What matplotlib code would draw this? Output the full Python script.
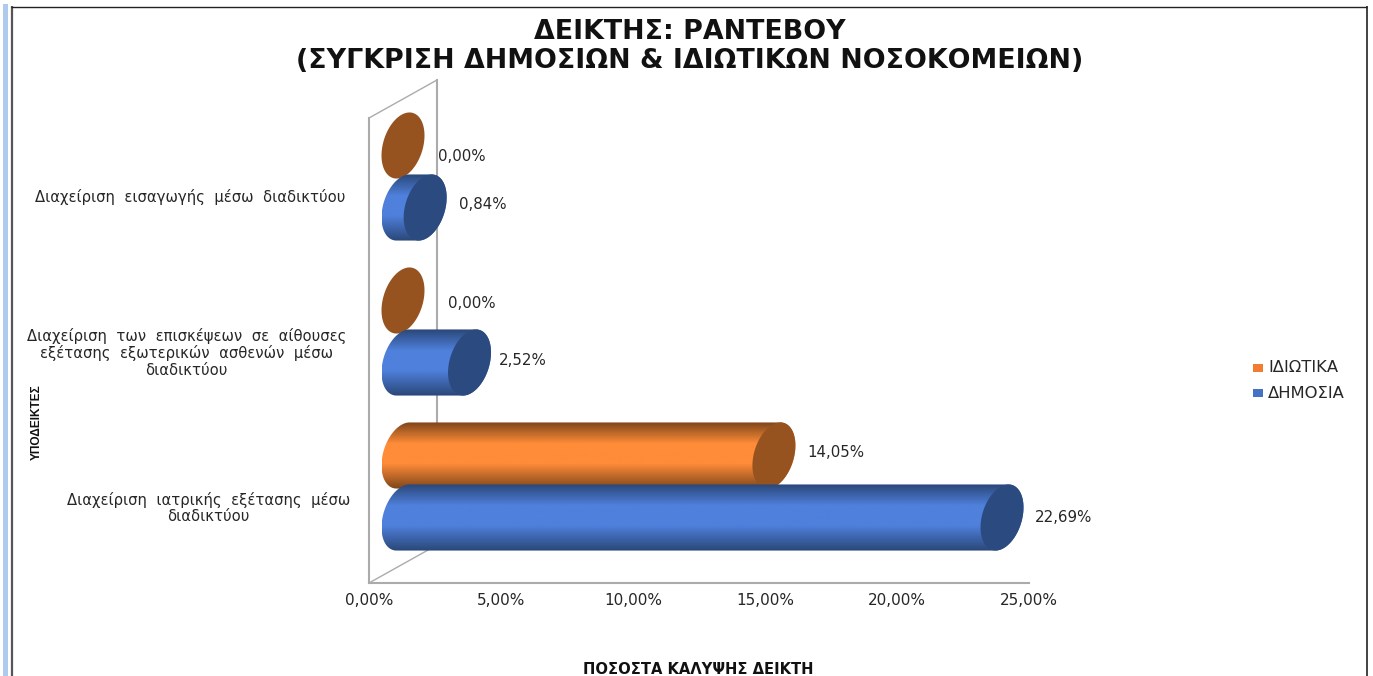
import numpy as np
import matplotlib
matplotlib.use('Agg')
import matplotlib.pyplot as plt
from matplotlib.colors import LinearSegmentedColormap
from matplotlib.lines import Line2D
from matplotlib.patches import Polygon, Rectangle

# ── Data ──────────────────────────────────────────────────────────
CATEGORIES = [
    'Διαχείριση  ιατρικής  εξέτασης  μέσω\nδιαδικτύου',
    'Διαχείριση  των  επισκέψεων  σε  αίθουσες\nεξέτασης  εξωτερικών  ασθενών  μέσω\nδιαδικτύου',
    'Διαχείριση  εισαγωγής  μέσω  διαδικτύου',
]
DIMOSIA  = [22.69, 2.52, 0.84]
IDIOTIKA = [14.05, 0.00, 0.00]
X_TICKS  = [0, 5, 10, 15, 20, 25]

# ── Layout (pixels of the 1373x676 picture) ───────────────────────
W, H = 1373, 676
AX_L, AX_R, AX_T, AX_B = 369, 1029, 118, 583
PX_X = (AX_R - AX_L) / 25
PX_Y = (AX_B - AX_T) / 3
DEPTH_X, DEPTH_Y = 68 / PX_X, 38 / PX_Y     # depth of the fake 3D box
BAR_SHIFT = 31 / PX_Y                       # series centre from category centre

# end cap of a cylinder, half axes in data units
CAP_UX, CAP_UY, CAP_VY = 21.5 / PX_X, 10 / PX_Y, 31.5 / PX_Y

BLUE   = {'edge': '#2A4778', 'mid': '#4F80DC', 'cap': '#2B4B80'}
ORANGE = {'edge': '#7E451A', 'mid': '#FF8C38', 'cap': '#97531F'}
WALL   = '#ABABAB'
TEXT   = '#262626'

plt.rcParams['font.family'] = ['DejaVu Sans']

fig = plt.figure(figsize=(W / 100, H / 100), dpi=100)
ax = fig.add_axes([AX_L / W, 1 - AX_B / H, (AX_R - AX_L) / W, (AX_B - AX_T) / H])
ax.set_xlim(0, 25)
ax.set_ylim(0, 3)
ax.patch.set_alpha(0)


def cap_points(cx, cy, t):
    return np.column_stack([cx + CAP_UX * np.cos(t),
                            cy + CAP_UY * np.cos(t) + CAP_VY * np.sin(t)])


def draw_cylinder(value, cy, style, z):
    x0 = DEPTH_X / 2
    x1 = x0 + value
    t_top = np.arctan2(CAP_VY, CAP_UY)      # upper tangent of the tilted ellipse
    if value > 0:
        left = cap_points(x0, cy, np.linspace(t_top, t_top + np.pi, 60))
        right = cap_points(x1, cy, np.linspace(t_top + np.pi, t_top + 2 * np.pi, 60))
        body = Polygon(np.vstack([left, right]), closed=True, transform=ax.transData,
                       fc='none', ec='none')
        ax.add_patch(body)
        half = np.hypot(CAP_UY, CAP_VY)
        cmap = LinearSegmentedColormap.from_list(
            'g', [(0, style['edge']), (0.32, style['mid']), (0.62, style['mid']), (1, style['edge'])],
        )
        grad = np.linspace(0, 1, 128).reshape(-1, 1)
        im = ax.imshow(grad, cmap=cmap, aspect='auto', zorder=z,
                       extent=[x0 - CAP_UX, x1 + CAP_UX, cy - half, cy + half])
        im.set_clip_path(body)
    cap = Polygon(cap_points(x1, cy, np.linspace(0, 2 * np.pi, 120)), closed=True,
                  fc=style['cap'], ec='none', zorder=z + 0.1, clip_on=False)
    ax.add_patch(cap)


# ── Box walls ─────────────────────────────────────────────────────
wall_kw = dict(color=WALL, clip_on=False, zorder=1)
ax.plot([0, 0], [0, 3], lw=1.5, **wall_kw)
ax.plot([0, 25], [0, 0], lw=1.5, **wall_kw)
ax.plot([0, DEPTH_X], [0, DEPTH_Y], lw=1.0, **wall_kw)
ax.plot([0, DEPTH_X], [3, 3 + DEPTH_Y], lw=1.0, **wall_kw)
ax.plot([DEPTH_X, DEPTH_X], [DEPTH_Y, 3 + DEPTH_Y], lw=1.5, **wall_kw)

# ── Bars + value labels ───────────────────────────────────────────
# hand placed label nudges in pixels, (category, series)
NUDGE_ORANGE = [(33, 3), (45, -3), (35, -11)]
NUDGE_BLUE   = [(33, 0), (29, 2), (34, 3)]

for i in range(len(CATEGORIES)):
    cy = i + 0.5 + DEPTH_Y / 2
    for vals, style, sign, nudge, z in ((IDIOTIKA, ORANGE, 1, NUDGE_ORANGE, 3),
                                        (DIMOSIA, BLUE, -1, NUDGE_BLUE, 4)):
        y = cy + sign * BAR_SHIFT
        draw_cylinder(vals[i], y, style, z)
        ax.annotate(f'{vals[i]:.2f}%'.replace('.', ','),
                    (DEPTH_X / 2 + vals[i], y),
                    xytext=(nudge[i][0] * 0.72, nudge[i][1] * 0.72),
                    textcoords='offset points', ha='left', va='center',
                    fontsize=10.8, color=TEXT, zorder=6)

ax.set_xlim(0, 25)
ax.set_ylim(0, 3)

# ── Axes text ─────────────────────────────────────────────────────
ax.set_xticks(X_TICKS)
ax.set_xticklabels([f'{t:.2f}%'.replace('.', ',') for t in X_TICKS],
                   fontsize=11, color=TEXT)
ax.set_yticks([i + 0.5 for i in range(len(CATEGORIES))])
ax.set_yticklabels(CATEGORIES, fontsize=10.6, color=TEXT, ha='center',
                   linespacing=1.15, multialignment='center')
ax.tick_params(axis='both', length=0)
ax.tick_params(axis='x', pad=7.5)
for s in ax.spines.values():
    s.set_visible(False)
# centred block of y labels, right edge set by hand
for lab, xc in zip(ax.get_yticklabels(), [213, 191.5, 195.5]):
    lab.set_x((xc - AX_L) / (AX_R - AX_L))

fig.text(690 / W, 1 - 32 / H, 'ΔΕΙΚΤΗΣ: ΡΑΝΤΕΒΟΥ', ha='center', va='center',
         fontsize=19.4, fontweight='bold', color='#111111')
fig.text(690 / W, 1 - 61 / H, '(ΣΥΓΚΡΙΣΗ ΔΗΜΟΣΙΩΝ & ΙΔΙΩΤΙΚΩΝ ΝΟΣΟΚΟΜΕΙΩΝ)', ha='center',
         va='center', fontsize=19.4, fontweight='bold', color='#111111')
fig.text(698 / W, 1 - 670 / H, 'ΠΟΣΟΣΤΑ ΚΑΛΥΨΗΣ ΔΕΙΚΤΗ', ha='center', va='center',
         fontsize=10.6, fontweight='bold', color='#111111')
fig.text(37 / W, 1 - 422 / H, 'ΥΠΟΔΕΙΚΤΕΣ', ha='center', va='center', rotation=90,
         fontsize=8.6, fontweight='bold', color='#111111', family='Liberation Sans')

# ── Legend ────────────────────────────────────────────────────────
for label, color, y in (('ΙΔΙΩΤΙΚΑ', '#F07D32', 368), ('ΔΗΜΟΣΙΑ', '#4472C4', 393)):
    fig.add_artist(Rectangle((1253 / W, 1 - (y + 4) / H), 10 / W, 8 / H,
                             transform=fig.transFigure, fc=color, ec='none'))
    fig.text(1268 / W, 1 - y / H, label, ha='left', va='center', fontsize=11.8, color=TEXT)

# ── Outer frame of the screenshot ─────────────────────────────────
fig.add_artist(Rectangle((3 / W, 0), 5 / W, 1 - 4 / H, transform=fig.transFigure,
                         fc='#AECBEE', ec='none'))
frame_kw = dict(solid_capstyle='butt')
fig.add_artist(Line2D([12 / W, 12 / W], [0, 1 - 6 / H], color='#555555', lw=1.6, **frame_kw))
fig.add_artist(Line2D([11 / W, 1367 / W], [1 - 6.5 / H, 1 - 6.5 / H], color='#222222', lw=1.0, **frame_kw))
fig.add_artist(Line2D([1367 / W, 1367 / W], [0, 1 - 6 / H], color='#222222', lw=1.2, **frame_kw))

fig.savefig('out.png', dpi=100)
